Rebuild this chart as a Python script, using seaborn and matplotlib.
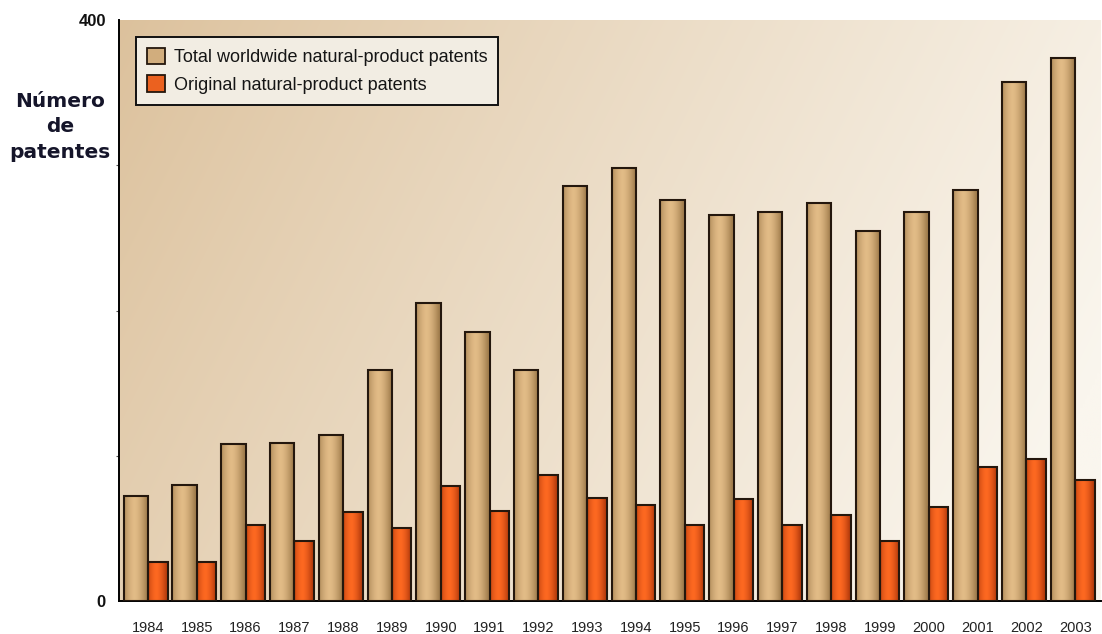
import numpy as np
import pandas as pd
import matplotlib
matplotlib.use("Agg")
import matplotlib.pyplot as plt
from matplotlib.patches import Patch
from matplotlib.ticker import FixedLocator
import seaborn as sns

# Natural-product patents per year
years = [str(y) for y in range(1984, 2004)]
total_patents = [72, 80, 108, 109, 114, 159, 205, 185, 159, 286,
                 298, 276, 266, 268, 274, 255, 268, 283, 357, 374]
original_patents = [27, 27, 52, 41, 61, 50, 79, 62, 87, 71,
                    66, 52, 70, 52, 59, 41, 65, 92, 98, 83]
series_labels = ["Total worldwide natural-product patents",
                 "Original natural-product patents"]
y_label = "Número\nde\npatentes"

sns.set_theme(style="white")
plt.rcParams["font.family"] = ["Liberation Sans", "DejaVu Sans"]

df = pd.DataFrame({
    "year": years * 2,
    "patents": total_patents + original_patents,
    "series": [series_labels[0]] * len(years) + [series_labels[1]] * len(years),
})

TAN = (0.82, 0.68, 0.49)
ORANGE = (0.92, 0.38, 0.12)
EDGE = (0.14, 0.09, 0.05)

W, H = 1102, 634
fig = plt.figure(figsize=(W / 100, H / 100), dpi=100)
fig.patch.set_facecolor("white")
rect = [119 / W, 1 - 601 / H, 982 / W, 581 / H]

# warm background wash behind the plotting area
bg_ax = fig.add_axes(rect, zorder=0)
gx, gy = np.meshgrid(np.linspace(0, 1, 400), np.linspace(0, 1, 300))
t = np.clip(0.85 * gx + 0.25 * gy, 0, 1) ** 0.9
c0 = np.array([220, 193, 156]) / 255
c1 = np.array([250, 246, 238]) / 255
bg = c0[None, None, :] * (1 - t[..., None]) + c1[None, None, :] * t[..., None]
bg_ax.imshow(bg, aspect="auto", extent=[0, 1, 0, 1], interpolation="bilinear")
bg_ax.set_axis_off()

ax = fig.add_axes(rect, zorder=1)
ax.patch.set_alpha(0)

sns.barplot(data=df, x="year", y="patents", hue="series",
            palette=[TAN, ORANGE], width=0.9, saturation=1,
            edgecolor=EDGE, linewidth=1.5, ax=ax)
if ax.get_legend() is not None:
    ax.get_legend().remove()


def shade(patch, base, edge_dark):
    x0, w = patch.get_x(), patch.get_width()
    h = patch.get_height()
    u = np.linspace(0, 1, 64)
    prof = 1 - np.abs(2 * (u - 0.42)) ** 1.6
    prof = np.clip(prof, 0, 1)
    base = np.array(base)
    dark = np.array(edge_dark)
    light = np.clip(base * 1.08, 0, 1)
    cols = dark[None, :] + (light - dark)[None, :] * prof[:, None]
    img = np.repeat(cols[None, :, :], 4, axis=0)
    im = ax.imshow(img, aspect="auto", extent=[x0, x0 + w, 0, h],
                   interpolation="bilinear", zorder=2)
    im.set_clip_path(patch)
    patch.set_facecolor("none")
    patch.set_zorder(3)


tan_bars, orange_bars = ax.containers[0], ax.containers[1]
for p in tan_bars:
    i = round(p.get_x() + p.get_width())
    p.set_x(i - 0.50)
    p.set_width(0.50)
    shade(p, TAN, (0.64, 0.50, 0.31))
for p in orange_bars:
    i = round(p.get_x())
    p.set_x(i)
    p.set_width(0.40)
    shade(p, ORANGE, (0.72, 0.24, 0.05))

ax.set_xlim(-0.594, 19.53)
ax.set_ylim(0, 400)

ax.set_xticks(range(len(years)))
ax.set_xticklabels(years)
ax.set_yticks([0, 400])
ax.set_yticklabels(["0", "400"])
ax.yaxis.set_minor_locator(FixedLocator([100, 200, 300]))
ax.tick_params(axis="x", direction="out", length=9.5, width=1.1,
               color="black", pad=5, labelsize=10.5, labelcolor="#222222")
ax.tick_params(axis="y", which="major", direction="out", length=8.5,
               width=1.1, color="black", pad=1, labelsize=12,
               labelcolor="#111111")
ax.tick_params(axis="y", which="minor", direction="out", length=2.5,
               width=0.8, color="#555555", left=True)
for lab in ax.get_yticklabels():
    lab.set_fontweight("bold")
ax.set_xlabel("")
ax.set_ylabel("")

for side in ["top", "right"]:
    ax.spines[side].set_visible(False)
for side in ["left", "bottom"]:
    ax.spines[side].set_color("black")
    ax.spines[side].set_linewidth(1.4)

fig.text(60 / W, 1 - 127 / H, y_label, ha="center", va="center",
         fontsize=14.5, fontweight="heavy", color="#15152a",
         family=["DejaVu Sans"], linespacing=1.45)

handles = [Patch(facecolor=TAN, edgecolor=EDGE, linewidth=1.3),
           Patch(facecolor=ORANGE, edgecolor=EDGE, linewidth=1.3)]
leg = ax.legend(handles=handles, labels=series_labels, loc="upper left",
                bbox_to_anchor=(0.017, 0.971), borderaxespad=0,
                frameon=True, fancybox=False, framealpha=1,
                facecolor=(0.95, 0.93, 0.89), edgecolor="#111111",
                handlelength=1.0, handleheight=1.05, handletextpad=0.5,
                labelspacing=0.5, borderpad=0.6,
                prop={"family": ["Liberation Sans"], "size": 13})
leg.get_frame().set_linewidth(1.4)
for txt in leg.get_texts():
    txt.set_color("#151515")

fig.savefig("out.png", dpi=100)
